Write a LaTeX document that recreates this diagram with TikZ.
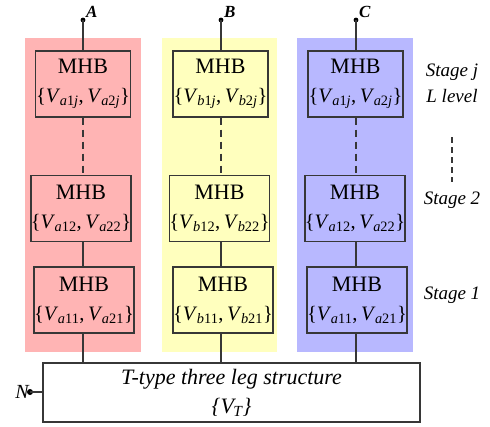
\documentclass[tikz,border=0pt]{standalone}
\usepackage{fontspec}
\setmainfont{Liberation Serif}
\definecolor{colred}{RGB}{255,180,180}
\definecolor{colyel}{RGB}{255,255,190}
\definecolor{colblu}{RGB}{184,184,255}
\definecolor{linec}{RGB}{55,55,55}
\newcommand\vv[1]{\textit{V}\kern-0.5pt\textsubscript{#1}}
\newcommand\mhbt{{\fontsize{22}{29}\selectfont MHB}}
\begin{document}
\begin{tikzpicture}[x=1pt,y=-1pt,
  mhb/.style={draw=linec, line width=1.3pt, minimum width=95pt, minimum height=66pt, inner sep=0pt,
    align=center, font=\fontsize{20.5}{29}\selectfont},
  wire/.style={draw=linec, line width=1.3pt},
  dwire/.style={draw=linec, line width=1.3pt, dash pattern=on 7pt off 5pt},
  term/.style={font=\fontsize{17}{20}\selectfont\bfseries\itshape, inner sep=0pt},
  stagelbl/.style={font=\fontsize{19}{22}\selectfont\itshape, inner sep=0pt},
  dotc/.style={fill=black}]
\useasboundingbox (0,0) rectangle (490,426);
% column backgrounds
\fill[colred] (25,38) rectangle (141,352);
\fill[colyel] (162,38) rectangle (277,352);
\fill[colblu] (297,38) rectangle (413,352);
% boxes, phase A
\node[mhb] (a3) at (83,84) {\mhbt\\\{\vv{\textit{a}1\textit{j}},\,\vv{\textit{a}2\textit{j}}\}};
\node[mhb] (a2) at (81,208.5) {\mhbt\\\{\vv{\textit{a}12},\,\vv{\textit{a}22}\}};
\node[mhb] (a1) at (84,300) {\mhbt\\\{\vv{\textit{a}11},\,\vv{\textit{a}21}\}};
% phase B
\node[mhb] (b3) at (220.5,84) {\mhbt\\\{\vv{\textit{b}1\textit{j}},\,\vv{\textit{b}2\textit{j}}\}};
\node[mhb] (b2) at (219.5,208.5) {\mhbt\\\{\vv{\textit{b}12},\,\vv{\textit{b}22}\}};
\node[mhb] (b1) at (223,300) {\mhbt\\\{\vv{\textit{b}11},\,\vv{\textit{b}21}\}};
% phase C
\node[mhb] (c3) at (355.5,84) {\mhbt\\\{\vv{\textit{a}1\textit{j}},\,\vv{\textit{a}2\textit{j}}\}};
\node[mhb] (c2) at (355,208.5) {\mhbt\\\{\vv{\textit{a}12},\,\vv{\textit{a}22}\}};
\node[mhb] (c1) at (357,300) {\mhbt\\\{\vv{\textit{a}11},\,\vv{\textit{a}21}\}};
% T-type structure
\node[mhb, minimum width=377pt, minimum height=59pt, font=\fontsize{22}{29}\selectfont\itshape] (T) at (231.5,392.5)
  {T-type three leg structure\\\{\vv{\textit{T}}\}};
% terminals
\coordinate (tA) at (83,20);
\coordinate (tB) at (221,20);
\coordinate (tC) at (356,20);
\coordinate (tN) at (30,392);
\fill[dotc] (tA) circle (2.4pt);
\fill[dotc] (tB) circle (2.4pt);
\fill[dotc] (tC) circle (2.4pt);
\fill[dotc] (tN) circle (3pt);
\node[term, anchor=south west] (lA) at (86,18) {A};
\node[term, anchor=south west] (lB) at (224,18) {B};
\node[term, anchor=south west] (lC) at (359,18) {C};
\node[font=\fontsize{20}{22}\selectfont\itshape, inner sep=0pt, anchor=east] (lN) at (29,392) {N};
% wires
\draw[wire] (tA) -- (tA |- a3.north);
\draw[wire] (tB) -- (tB |- b3.north);
\draw[wire] (tC) -- (tC |- c3.north);
\draw[dwire] (tA |- a3.south) -- (tA |- a2.north);
\draw[dwire] (tB |- b3.south) -- (tB |- b2.north);
\draw[dwire] (tC |- c3.south) -- (tC |- c2.north);
\draw[wire] (tA |- a2.south) -- (tA |- a1.north);
\draw[wire] (tB |- b2.south) -- (tB |- b1.north);
\draw[wire] (tC |- c2.south) -- (tC |- c1.north);
\draw[wire] (tA |- a1.south) -- (tA |- T.north);
\draw[wire] (tB |- b1.south) -- (tB |- T.north);
\draw[wire] (tC |- c1.south) -- (tC |- T.north);
\draw[wire] (tN) -- (T.west |- tN);
% stage labels
\node[stagelbl] (sj) at (452,72) {Stage j};
\node[stagelbl] (sl) at (452,96) {L level};
\coordinate (d1) at (452,137);
\coordinate (d2) at (452,182);
\draw[linec, line width=1.2pt, dash pattern=on 6pt off 4pt] (d1) -- (d2);
\node[stagelbl] (s2) at (452,200) {Stage 2};
\node[stagelbl] (s1) at (452,295) {Stage 1};
\end{tikzpicture}
\end{document}
